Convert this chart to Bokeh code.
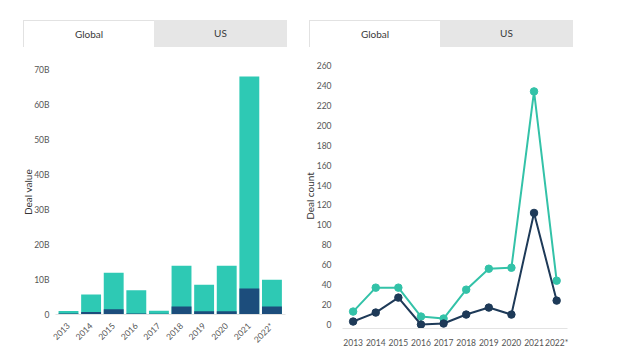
from bokeh.plotting import figure
from bokeh.models import FixedTicker, Div, Range1d, ColumnDataSource
from bokeh.layouts import column, row
from bokeh.embed import file_html
from bokeh.resources import INLINE
import math

years = ["2013", "2014", "2015", "2016", "2017", "2018", "2019", "2020", "2021", "2022*"]
global_value_b = [1.0, 5.7, 11.9, 6.9, 1.1, 13.9, 8.5, 13.9, 68.0, 9.9]
us_value_b = [0.3, 0.7, 1.5, 0.3, 0.2, 2.3, 0.9, 0.9, 7.4, 2.3]
global_count = [13, 37, 37, 8, 6, 35, 56, 57, 234, 44]
us_count = [3, 12, 27, 0, 1, 10, 17, 10, 112, 24]
value_ticks = [0, 10, 20, 30, 40, 50, 60, 70]
count_ticks = list(range(0, 261, 20))

TEAL = "#2ec9b4"
NAVY_BAR = "#1c4d7c"
TEAL_LINE = "#33c2a8"
NAVY_LINE = "#1e3a58"
FONT = "Lato"

idx = list(range(len(years)))
src = ColumnDataSource(dict(x=idx, g=global_value_b, u=us_value_b,
                            gc=global_count, uc=us_count))

def style(p):
    p.outline_line_color = None
    p.xgrid.grid_line_color = None
    p.ygrid.grid_line_color = None
    p.background_fill_color = "white"
    p.border_fill_color = "white"
    for ax in p.xaxis + p.yaxis:
        ax.major_label_text_font = FONT
        ax.major_label_text_font_size = "8.5px"
        ax.major_label_text_color = "#555555"
        ax.axis_label_text_font = FONT
        ax.axis_label_text_font_size = "10px"
        ax.axis_label_text_font_style = "normal"
        ax.axis_label_text_color = "#333333"
        ax.major_tick_line_color = None
        ax.minor_tick_line_color = None
    p.yaxis.axis_line_color = None
    p.xaxis.axis_line_color = "#e3e3e3"

# Left: deal value bars
p1 = figure(width=300, height=301, output_backend="svg", toolbar_location=None,
            x_range=Range1d(-0.575, 9.60), y_range=Range1d(0, 70),
            min_border_left=55, min_border_right=15, min_border_top=19, min_border_bottom=37)
p1.vbar(x="x", top="g", width=0.88, source=src, color=TEAL, line_color=None)
p1.vbar(x="x", top="u", width=0.88, source=src, color=NAVY_BAR, line_color=None)
style(p1)
p1.xaxis.ticker = FixedTicker(ticks=idx)
p1.xaxis.major_label_overrides = {i: y for i, y in zip(idx, years)}
p1.xaxis.major_label_orientation = math.pi / 4
p1.yaxis.ticker = FixedTicker(ticks=value_ticks)
p1.yaxis.major_label_overrides = {v: ("0" if v == 0 else f"{v}B") for v in value_ticks}
p1.yaxis.axis_label = "Deal value"
p1.yaxis.major_label_standoff = 0
p1.yaxis.axis_label_standoff = -3
p1.xaxis.major_label_standoff = 4

# Right: deal count lines
p2 = figure(width=340, height=301, output_backend="svg", toolbar_location=None,
            x_range=Range1d(-0.47, 9.48), y_range=Range1d(-4, 262),
            min_border_left=42, min_border_right=73, min_border_top=13, min_border_bottom=23)
p2.line(x="x", y="gc", source=src, line_color=TEAL_LINE, line_width=2)
p2.scatter(x="x", y="gc", source=src, size=7.5, fill_color=TEAL_LINE, line_color=TEAL_LINE)
p2.line(x="x", y="uc", source=src, line_color=NAVY_LINE, line_width=2)
p2.scatter(x="x", y="uc", source=src, size=7.5, fill_color=NAVY_LINE, line_color=NAVY_LINE)
style(p2)
p2.xaxis.ticker = FixedTicker(ticks=idx)
p2.xaxis.major_label_overrides = {i: y for i, y in zip(idx, years)}
p2.yaxis.ticker = FixedTicker(ticks=count_ticks)
p2.yaxis.axis_label = "Deal count"
p2.yaxis.major_label_standoff = 5
p2.yaxis.axis_label_standoff = -2
p2.xaxis.major_label_standoff = 3

tab_style = ("position:absolute;top:20px;height:27px;line-height:27px;text-align:center;"
             "font-family:Lato;font-size:10px;color:#3a3a3a;box-sizing:border-box;")
html = (
    '<div style="position:relative;width:640px;height:50px;background:white;">'
    f'<div style="{tab_style}left:23px;width:131px;background:#fff;border-top:1px solid #e2e2e2;border-left:1px solid #e2e2e2;">Global</div>'
    f'<div style="{tab_style}left:154px;width:133px;background:#e6e6e6;">US</div>'
    f'<div style="{tab_style}left:309px;width:131px;background:#fff;border-top:1px solid #e2e2e2;border-left:1px solid #e2e2e2;">Global</div>'
    f'<div style="{tab_style}left:440px;width:133px;background:#e6e6e6;">US</div>'
    '</div>'
)
tabs = Div(text=html, width=640, height=50, margin=0)

layout = column(tabs, row(column(p1), column(p2), spacing=0), spacing=0)
open("out.html", "w").write(file_html(layout, INLINE))
